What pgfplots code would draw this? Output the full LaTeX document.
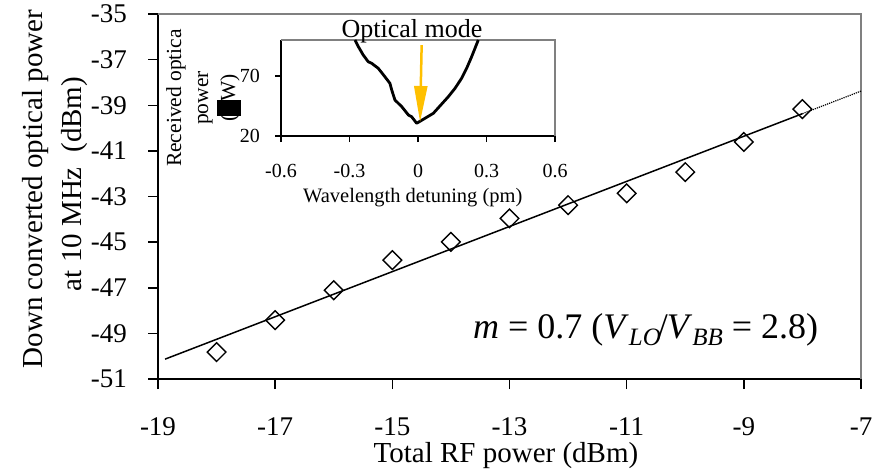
\documentclass[border=0pt]{standalone}
\usepackage{fontspec}
\setmainfont{Liberation Serif}
\usepackage{pgfplots}
\pgfplotsset{compat=1.18}
\usetikzlibrary{arrows.meta}

\definecolor{framegray}{gray}{0.5}
\definecolor{modearrow}{RGB}{255,192,0}

% Down-converted power versus total RF power
\pgfplotstableread{
x     y
-18  -49.82
-17  -48.42
-16  -47.11
-15  -45.79
-14  -44.99
-13  -43.96
-12  -43.38
-11  -42.86
-10  -41.93
-9   -40.61
-8   -39.17
}\measured

% Received optical power around the optical mode
\pgfplotstableread{
x       y
-0.276  100
-0.261  94.4
-0.240  87.5
-0.218  81.9
-0.203  80.6
-0.174  76.4
-0.145  69.4
-0.123  63.9
-0.115  58.3
-0.101  50.0
-0.071  44.4
-0.042  37.5
-0.028  36.1
-0.006  30.6
0.038   35.6
0.067   38.9
0.096   45.0
0.133   52.8
0.162   59.7
0.191   68.1
0.213   76.4
0.235   86.1
0.264   100
}\detuning

\begin{document}
\begin{tikzpicture}[x=1pt,y=1pt]
\path[use as bounding box] (-158,-96) rectangle (727,379);

\begin{axis}[
  name=main, at={(0pt,0pt)}, anchor=south west,
  scale only axis, width=703pt, height=365pt,
  clip=false,
  xmin=-19, xmax=-7, ymin=-51, ymax=-35,
  xtick={-19,-17,...,-7}, ytick={-51,-49,...,-35},
  axis x line*=bottom, axis y line*=left,
  axis line style={line width=1.5pt},
  tick align=outside, major tick length=10pt,
  tick style={black, line width=1.5pt},
  /pgf/number format/assume math mode=true,
  ticklabel style={font=\fontsize{27}{27}\selectfont, inner sep=0pt},
  xticklabel style={anchor=base, yshift=-46pt},
  yticklabel style={anchor=east, xshift=-21pt},
  xlabel={Total RF power (dBm)},
  xlabel style={at={(axis description cs:0.495,-0.2274)}, anchor=base,
    inner sep=0pt, font=\fontsize{29}{29}\selectfont},
  ylabel={Down converted optical power\\\hspace*{10pt}at 10 MHz\ \ (dBm)},
  ylabel style={at={(axis description cs:-0.1465,0.5205)}, anchor=center,
    align=center, inner sep=0pt, font=\fontsize{29}{39.5}\selectfont},
]
  \draw[framegray, line width=1.5pt]
    (rel axis cs:0,1) -- (rel axis cs:1,1) -- (rel axis cs:1,0);
  % linear fit, dotted where it runs past the last measurement
  \addplot[black, line width=1.5pt, mark=none]
    coordinates {(-18.88,-50.13) (-8,-39.37)};
  \addplot[black, line width=1.2pt, densely dotted, mark=none]
    coordinates {(-8,-39.37) (-7,-38.38)};
  \addplot[only marks, mark=square, mark size=6.6pt,
    mark options={rotate=45, line width=1.4pt, black}]
    table[x=x, y=y] {\measured};
  \node[anchor=base west, inner sep=0pt, font=\fontsize{36}{36}\selectfont]
    at (axis description cs:0.448,0.1123)
    {\textit{m} = 0.7 (\textit{V}\raisebox{-7pt}{\fontsize{25}{25}\selectfont\textit{LO}}\kern-3pt/\kern-1pt\textit{V}\raisebox{-7pt}{\fontsize{25}{25}\selectfont\textit{BB}} = 2.8)};
\end{axis}

\begin{axis}[
  name=inset, at={(123pt,243pt)}, anchor=south west,
  scale only axis, width=274pt, height=96pt,
  clip=false,
  xmin=-0.6, xmax=0.6, ymin=20, ymax=100,
  xtick={-0.6,-0.3,0,0.3,0.6}, ytick={20,70},
  axis x line*=bottom, axis y line*=left,
  axis line style={line width=1.5pt},
  tick align=outside, major tick length=6pt,
  tick style={black, line width=1.5pt},
  /pgf/number format/assume math mode=true,
  ticklabel style={font=\fontsize{20}{20}\selectfont, inner sep=0pt},
  xticklabel style={anchor=base, yshift=-35pt},
  yticklabel style={anchor=east, xshift=-15pt},
  xlabel={Wavelength detuning (pm)},
  xlabel style={at={(axis description cs:0.481,-0.6875)}, anchor=base,
    inner sep=0pt, font=\fontsize{20.5}{20.5}\selectfont},
  ylabel={Received optica\\power\\(\textmu W)},
  ylabel style={at={(axis description cs:-0.285,0.396)}, anchor=center,
    align=center, inner sep=0pt, font=\fontsize{21.5}{27}\selectfont},
]
  \draw[framegray, line width=1.5pt]
    (rel axis cs:0,1) -- (rel axis cs:1,1) -- (rel axis cs:1,0);
  \addplot[black, line width=2.8pt, mark=none, line join=round]
    table[x=x, y=y] {\detuning};
  \draw[modearrow, line width=2.5pt, -{Triangle[width=13pt,length=36pt]}]
    (axis cs:0.016,95.8) -- (axis cs:0.009,31.7);
  \fill[black] (axis description cs:-0.2336,0.208)
    rectangle (axis description cs:-0.146,0.375);
  \node[anchor=base, inner sep=0pt, font=\fontsize{26}{26}\selectfont]
    at (axis description cs:0.478,1.031) {Optical mode};
\end{axis}
\end{tikzpicture}
\end{document}
